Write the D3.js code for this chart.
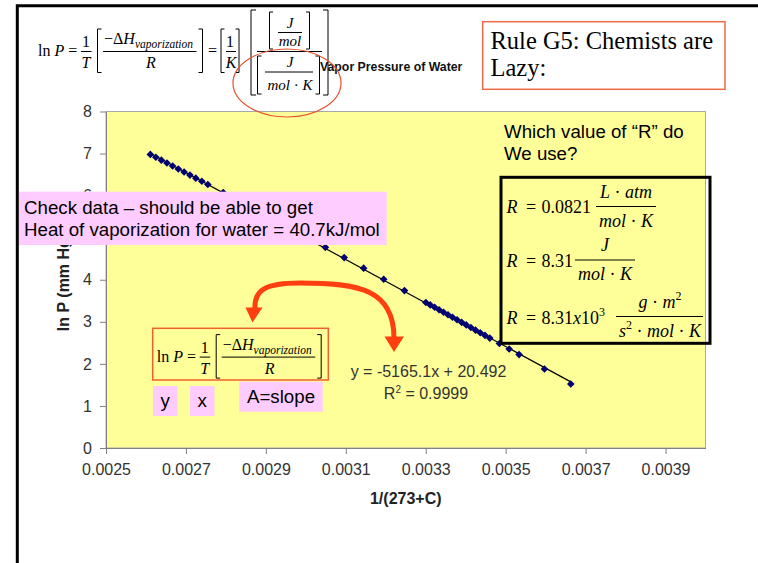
<!DOCTYPE html>
<html><head><meta charset="utf-8">
<script src="https://cdn.jsdelivr.net/npm/d3@7"></script>
<style>
html,body{margin:0;padding:0;background:#fff;}
svg{display:block;}
</style></head><body>
<svg id="c" width="758" height="563"></svg>
<script>
// Vapour pressure of water: temperature (°C) and pressure (mm Hg)
const tempsC = [0,5,10,12,14,16,17,18,19,20,21,22,23,24,25,26,27,28,29,30,35,40,45,50,55,60,65,70,75,80,85,90,92,94,96,98,100,102,104,106,108,110];
const pressureMmHg = [4.58,6.54,9.21,10.52,11.99,13.63,14.53,15.48,16.48,17.54,18.65,19.83,21.07,22.38,23.76,25.21,26.74,28.35,30.04,31.82,42.18,55.32,71.88,92.51,118.04,149.38,187.54,233.7,289.1,355.1,433.6,525.76,566.99,610.90,657.62,707.27,760.0,815.86,875.06,937.92,1004.42,1074.56];
const xTicks = [0.0025,0.0027,0.0029,0.0031,0.0033,0.0035,0.0037,0.0039];
const yTicks = [0,1,2,3,4,5,6,7,8];
const trendSlope = -5165.1;
const trendIntercept = 20.492;
const rSquared = 0.9999;

const sans = "'Liberation Sans', Arial, sans-serif";
const serif = "'Liberation Serif', 'Times New Roman', serif";
const svg = d3.select("#c");

// chart axes: x = 1/(273+C), y = ln P
const x = d3.scaleLinear().domain([0.0025, 0.0040]).range([106, 705.5]);
const y = d3.scaleLinear().domain([0, 8]).range([448, 111.5]);
const pts = tempsC.map((c, i) => ({ x: 1 / (273 + c), y: Math.log(pressureMmHg[i]) }));

// plot area
svg.append("rect")
  .attr("x", x.range()[0]).attr("y", y.range()[1])
  .attr("width", x.range()[1] - x.range()[0]).attr("height", y.range()[0] - y.range()[1])
  .attr("fill", "#FFFF99").attr("stroke", "#A8A8A8").attr("stroke-width", 1);

function styleAxis(g) {
  g.attr("font-family", sans).attr("font-size", 16);
  g.select(".domain").attr("stroke", "#808080");
  g.selectAll(".tick line").attr("stroke", "#808080");
  g.selectAll(".tick text").attr("fill", "#333");
}
svg.append("g").attr("transform", `translate(0,${y(0)})`)
  .call(d3.axisBottom(x).tickValues(xTicks).tickFormat(d3.format(".4f")).tickSize(6).tickSizeOuter(0).tickPadding(10))
  .call(styleAxis);
svg.append("g").attr("transform", `translate(${x(0.0025)},0)`)
  .call(d3.axisLeft(y).tickValues(yTicks).tickFormat(d3.format("d")).tickSize(6).tickSizeOuter(0).tickPadding(8))
  .call(styleAxis);

// axis titles
svg.append("text").attr("x", (x.range()[0] + x.range()[1]) / 2).attr("y", 503.5)
  .attr("text-anchor", "middle").attr("font-family", sans).attr("font-size", 16).attr("font-weight", "bold")
  .attr("fill", "#222").text("1/(273+C)");
svg.append("text").attr("transform", "translate(69,282) rotate(-90)")
  .attr("text-anchor", "middle").attr("font-family", sans).attr("font-size", 16).attr("font-weight", "bold")
  .attr("fill", "#222").text("ln P (mm Hg)");

// linear trendline over the data range
const xExt = d3.extent(pts, d => d.x);
svg.append("line")
  .attr("x1", x(xExt[0])).attr("y1", y(trendSlope * xExt[0] + trendIntercept))
  .attr("x2", x(xExt[1])).attr("y2", y(trendSlope * xExt[1] + trendIntercept))
  .attr("stroke", "#000").attr("stroke-width", 1.2);

// diamond markers
const diamond = d3.symbol(d3.symbolSquare, 29)();
svg.append("g").selectAll("path").data(pts).join("path")
  .attr("d", diamond)
  .attr("transform", d => `translate(${x(d.x)},${y(d.y)}) rotate(45)`)
  .attr("fill", "#000070");

// trendline label
svg.append("text").attr("x", 428.5).attr("y", 376.7).attr("text-anchor", "middle")
  .attr("font-family", sans).attr("font-size", 16).attr("fill", "#333")
  .text(`y = ${trendSlope}x + ${trendIntercept}`);
const r2 = svg.append("text").attr("x", 426).attr("y", 399).attr("text-anchor", "middle")
  .attr("font-family", sans).attr("font-size", 16).attr("fill", "#333");
r2.append("tspan").text("R");
r2.append("tspan").attr("dy", -6).attr("font-size", 10).text("2");
r2.append("tspan").attr("dy", 6).text(` = ${rSquared}`);

// chart title
svg.append("text").attr("x", 320).attr("y", 71).attr("font-family", sans).attr("font-size", 12.3)
  .attr("font-weight", "bold").attr("fill", "#111").text("Vapor Pressure of Water");

// ---------- math helpers ----------
function mt(g, xx, yy, size, anchor, pieces) {
  const t = g.append("text").attr("x", xx).attr("y", yy).attr("font-family", serif)
    .attr("font-size", size).attr("text-anchor", anchor).attr("fill", "#000");
  pieces.forEach(p => {
    const s = t.append("tspan").text(p[0]);
    if (p[1]) s.attr("font-style", "italic");
    if (p[2]) s.attr("dy", p[2]);
    if (p[3]) s.attr("font-size", p[3]);
  });
  return t;
}
function hbar(g, x1, x2, yy) {
  g.append("line").attr("x1", x1).attr("x2", x2).attr("y1", yy).attr("y2", yy)
    .attr("stroke", "#000").attr("stroke-width", 1);
}
function bracket(g, xx, y0, y1, w) {
  g.append("path").attr("d", `M${xx + w},${y0}H${xx}V${y1}H${xx + w}`)
    .attr("fill", "none").attr("stroke", "#000").attr("stroke-width", 1);
}

// ln P = 1/T [ -ΔH_vap / R ]
function lnPFormula(dx, dy) {
  const g = svg.append("g").attr("transform", `translate(${dx},${dy})`);
  mt(g, 38, 56, 16, "start", [["ln "], ["P", 1], [" ="]]);
  mt(g, 86, 47, 16, "middle", [["1"]]);
  hbar(g, 81, 91.5, 51.5);
  mt(g, 86, 68, 16, "middle", [["T", 1]]);
  bracket(g, 97.5, 29, 72.5, 4);
  mt(g, 104, 44, 16, "start", [["\u2212\u0394"], ["H", 1], ["vaporization", 1, 4, 11.5]]);
  hbar(g, 103, 196.5, 51.5);
  mt(g, 151, 68, 16, "middle", [["R", 1]]);
  bracket(g, 202.5, 29, 72.5, -4);
  return g;
}

// top equation with units
const eqTop = lnPFormula(0, 0);
mt(eqTop, 208, 56, 16, "start", [["="]]);
bracket(eqTop, 221, 29, 72.5, 3.5);
mt(eqTop, 230, 47, 16, "middle", [["1"]]);
hbar(eqTop, 226, 236, 51.5);
mt(eqTop, 231, 68, 16, "middle", [["K", 1]]);
bracket(eqTop, 239, 29, 72.5, -3.5);
bracket(eqTop, 251, 10, 95, 5);
bracket(eqTop, 328, 10, 95, -5);
bracket(eqTop, 269.5, 12, 49, 3.5);
bracket(eqTop, 309.5, 12, 49, -3.5);
mt(eqTop, 290, 28, 15, "middle", [["J", 1]]);
hbar(eqTop, 278, 302, 32.5);
mt(eqTop, 290, 46, 15, "middle", [["mol", 1]]);
hbar(eqTop, 257, 322, 51.5);
bracket(eqTop, 257.5, 56, 94, 4);
bracket(eqTop, 319.5, 56, 94, -4);
mt(eqTop, 290, 67, 15, "middle", [["J", 1]]);
hbar(eqTop, 265, 313, 72);
mt(eqTop, 290, 90, 15, "middle", [["mol", 1], [" \u00B7 "], ["K", 1]]);

// red ring around the units of R
svg.append("ellipse").attr("cx", 287).attr("cy", 83).attr("rx", 54).attr("ry", 34)
  .attr("fill", "none").attr("stroke", "#E8502F").attr("stroke-width", 1.2);

// rule box
svg.append("rect").attr("x", 482.7).attr("y", 21.7).attr("width", 242.3).attr("height", 67.6)
  .attr("fill", "#fff").attr("stroke", "#F26A45").attr("stroke-width", 1.5);
svg.append("text").attr("x", 490.5).attr("y", 48.5).attr("font-family", serif).attr("font-size", 24.5)
  .attr("fill", "#000").text("Rule G5: Chemists are");
svg.append("text").attr("x", 490.5).attr("y", 75.5).attr("font-family", serif).attr("font-size", 24.5)
  .attr("fill", "#000").text("Lazy:");

// question
svg.append("text").attr("x", 504).attr("y", 138).attr("font-family", sans).attr("font-size", 18.7)
  .attr("fill", "#000").text("Which value of \u201CR\u201D do");
svg.append("text").attr("x", 504).attr("y", 160).attr("font-family", sans).attr("font-size", 18.7)
  .attr("fill", "#000").text("We use?");

// values of R
const rb = svg.append("g");
rb.append("rect").attr("x", 501).attr("y", 177.3).attr("width", 209).attr("height", 166)
  .attr("fill", "none").attr("stroke", "#000").attr("stroke-width", 3);
mt(rb, 506.5, 213, 18, "start", [["R", 1]]);
mt(rb, 526, 213, 18, "start", [["="]]);
mt(rb, 541.5, 213, 18, "start", [["0.0821"]]);
mt(rb, 626, 198, 18, "middle", [["L", 1], [" \u00B7 "], ["atm", 1]]);
hbar(rb, 596, 656, 206.5);
mt(rb, 626, 226.5, 18, "middle", [["mol", 1], [" \u00B7 "], ["K", 1]]);

mt(rb, 506.5, 267, 18, "start", [["R", 1]]);
mt(rb, 526, 267, 18, "start", [["="]]);
mt(rb, 541.5, 267, 18, "start", [["8.31"]]);
mt(rb, 605, 251, 18, "middle", [["J", 1]]);
hbar(rb, 575, 635, 260);
mt(rb, 605, 280, 18, "middle", [["mol", 1], [" \u00B7 "], ["K", 1]]);

mt(rb, 506.5, 324, 18, "start", [["R", 1]]);
mt(rb, 526, 324, 18, "start", [["="]]);
mt(rb, 541.5, 324, 18, "start", [["8.31"], ["x", 1], ["10"], ["3", 0, -8, 12]]);
mt(rb, 660, 308, 18, "middle", [["g", 1], [" \u00B7 "], ["m", 1], ["2", 0, -8, 12]]);
hbar(rb, 616, 703, 316.5);
mt(rb, 660, 337, 18, "middle", [["s", 1], ["2", 0, -8, 12], [" \u00B7 ", 0, 8], ["mol", 1], [" \u00B7 "], ["K", 1]]);

// note box
svg.append("rect").attr("x", 19).attr("y", 191.7).attr("width", 367.7).attr("height", 53.3).attr("fill", "#FFCCFF");
svg.append("text").attr("x", 24).attr("y", 213.5).attr("font-family", sans).attr("font-size", 18.7)
  .attr("fill", "#000").text("Check data \u2013 should be able to get");
svg.append("text").attr("x", 24).attr("y", 235.5).attr("font-family", sans).attr("font-size", 18.7)
  .attr("fill", "#000").text("Heat of vaporization for water = 40.7kJ/mol");

// curved double arrow
const red = "#FF3F0F";
svg.append("path").attr("d", "M255,309 C254,290 265,283 300,283 C360,283 394,290 394,338")
  .attr("fill", "none").attr("stroke", red).attr("stroke-width", 5);
svg.append("path").attr("d", "M245.5,307.5 L262.5,307.5 L252.5,322.5 Z").attr("fill", red);
svg.append("path").attr("d", "M384.5,336.5 L404,336.5 L394,352 Z").attr("fill", red);

// boxed ln P formula
svg.append("rect").attr("x", 152.7).attr("y", 328.3).attr("width", 175.6).attr("height", 51.7)
  .attr("fill", "none").attr("stroke", "#F06030").attr("stroke-width", 1.5);
lnPFormula(118.7, 305.6);

// term labels
const tags = [
  { t: "y", x: 153, y: 386, w: 24.5, h: 30, by: 407 },
  { t: "x", x: 190, y: 386, w: 24.5, h: 30, by: 407 },
  { t: "A=slope", x: 239.3, y: 381.7, w: 83.4, h: 30, by: 403 }
];
tags.forEach(d => {
  svg.append("rect").attr("x", d.x).attr("y", d.y).attr("width", d.w).attr("height", d.h).attr("fill", "#FFCCFF");
  svg.append("text").attr("x", d.x + d.w / 2).attr("y", d.by).attr("text-anchor", "middle")
    .attr("font-family", sans).attr("font-size", 18.7).attr("fill", "#000").text(d.t);
});

// slide frame
svg.append("path").attr("d", "M17.3,563V5.8H758").attr("fill", "none").attr("stroke", "#000").attr("stroke-width", 3);
</script>
</body></html>
